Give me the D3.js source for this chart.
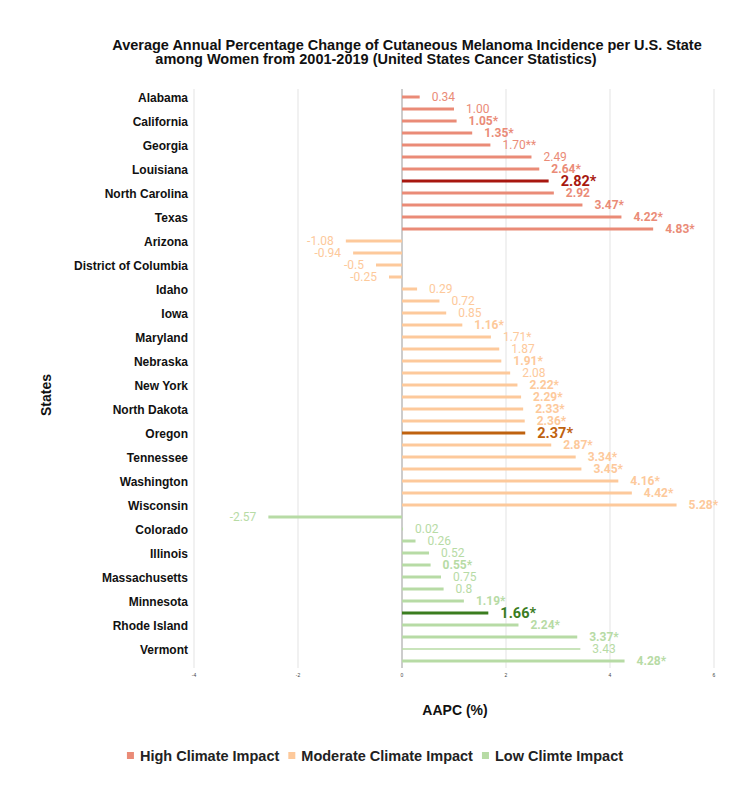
<!DOCTYPE html>
<html>
<head>
<meta charset="utf-8">
<script src="https://cdn.jsdelivr.net/npm/d3@7"></script>
<style>
  body { margin: 0; background: #fff; }
  svg { display: block; }
</style>
</head>
<body>
<svg width="750" height="790"></svg>
<script>
const width = 750, height = 790;
const svg = d3.select("svg");

// High climate impact states (sorted as in the chart)
const highStates = ["Alabama", "Arkansas", "California", "Florida", "Georgia", "Kentucky",
    "Louisiana", "Mississippi", "North Carolina", "South Carolina", "Texas", "Virginia"];
const highValues = [0.34, 1.00, 1.05, 1.35, 1.70, 2.49, 2.64, 2.82, 2.92, 3.47, 4.22, 4.83];
const highLabels = ["0.34", "1.00", "1.05*", "1.35*", "1.70**", "2.49", "2.64*", "2.82*", "2.92", "3.47*", "4.22*", "4.83*"];

// Moderate climate impact states
const modStates = ["Arizona", "Delaware", "District of Columbia", "Hawaii", "Idaho", "Indiana",
    "Iowa", "Kansas", "Maryland", "Missouri", "Nebraska", "New Jersey", "New York", "Ohio",
    "North Dakota", "Oklahoma", "Oregon", "Pennsylvania", "Tennessee", "Utah", "Washington",
    "West Virginia", "Wisconsin"];
const modValues = [-1.08, -0.94, -0.5, -0.25, 0.29, 0.72, 0.85, 1.16, 1.71, 1.87, 1.91, 2.08,
    2.22, 2.29, 2.33, 2.36, 2.37, 2.87, 3.34, 3.45, 4.16, 4.42, 5.28];
const modLabels = ["-1.08", "-0.94", "-0.5", "-0.25", "0.29", "0.72", "0.85", "1.16*", "1.71*",
    "1.87", "1.91*", "2.08", "2.22*", "2.29*", "2.33*", "2.36*", "2.37*", "2.87*", "3.34*",
    "3.45*", "4.16*", "4.42*", "5.28*"];

// Low climate impact states
const lowStates = ["Alaska", "Colorado", "Connecticut", "Illinois", "Maine", "Massachusetts",
    "Michigan", "Minnesota", "Montana", "Rhode Island", "South Dakota", "Vermont", "Wyoming"];
const lowValues = [-2.57, 0.02, 0.26, 0.52, 0.55, 0.75, 0.8, 1.19, 1.66, 2.24, 3.37, 3.43, 4.28];
const lowLabels = ["-2.57", "0.02", "0.26", "0.52", "0.55*", "0.75", "0.8", "1.19*", "1.66*",
    "2.24*", "3.37*", "3.43", "4.28*"];

const xTicks = [-4, -2, 0, 2, 4, 6];
const groupNames = ["High Climate Impact", "Moderate Climate Impact", "Low Climte Impact"];

// styling
const groupColors = ["#ea8b77", "#fdc99b", "#b7dba5"];
const highlightColors = ["#a8170f", "#bf620f", "#3b7d1f"];
const highlighted = new Set(["Mississippi", "Oregon", "Montana"]);
const boldLabels = new Set(["California", "Florida", "Louisiana", "North Carolina", "South Carolina",
    "Texas", "Virginia", "Kansas", "Nebraska", "New York", "Ohio", "North Dakota", "Oklahoma",
    "Pennsylvania", "Tennessee", "Utah", "Washington", "West Virginia", "Wisconsin",
    "Maine", "Minnesota", "Rhode Island", "South Dakota", "Wyoming"]);
const thinBars = new Set(["Vermont"]);

// build rows
const rows = [];
[[highStates, highValues, highLabels], [modStates, modValues, modLabels], [lowStates, lowValues, lowLabels]]
    .forEach(([states, values, labels], g) => {
        states.forEach((s, i) => rows.push({ state: s, value: values[i], label: labels[i], group: g }));
    });

const xScale = d3.scaleLinear().domain([-4, 6]).range([194, 714]);
const yScale = d3.scalePoint().domain(rows.map(d => d.state)).range([97, 661]);

const gridTop = 89, gridBottom = 668;

// grid lines
svg.append("g").selectAll("line")
    .data(xTicks)
    .enter().append("line")
    .attr("x1", d => xScale(d)).attr("x2", d => xScale(d))
    .attr("y1", gridTop).attr("y2", gridBottom)
    .attr("stroke", d => d === 0 ? "#9a9a9a" : "#e3e3e3")
    .attr("stroke-width", 1);

// x tick labels (tiny)
svg.append("g").selectAll("text")
    .data(xTicks)
    .enter().append("text")
    .attr("x", d => xScale(d))
    .attr("y", 677)
    .attr("text-anchor", "middle")
    .style("font-family", "Liberation Sans, Arial, sans-serif")
    .style("font-size", "5px")
    .style("fill", "#444")
    .text(d => d);

// bars (thin lines)
svg.append("g").selectAll("line")
    .data(rows)
    .enter().append("line")
    .attr("x1", xScale(0))
    .attr("x2", d => xScale(d.value))
    .attr("y1", d => yScale(d.state))
    .attr("y2", d => yScale(d.state))
    .attr("stroke", d => highlighted.has(d.state) ? highlightColors[d.group] : groupColors[d.group])
    .attr("stroke-width", d => thinBars.has(d.state) ? 1.6 : 3);

// value labels
svg.append("g").selectAll("text")
    .data(rows)
    .enter().append("text")
    .attr("x", d => xScale(d.value) + (d.value < 0 ? -12 : 12))
    .attr("y", d => yScale(d.state))
    .attr("dy", "0.36em")
    .attr("text-anchor", d => d.value < 0 ? "end" : "start")
    .style("font-family", "Roboto, sans-serif")
    .style("font-size", d => highlighted.has(d.state) ? "14.5px" : "12px")
    .style("font-weight", d => (highlighted.has(d.state) || boldLabels.has(d.state)) ? "bold" : "normal")
    .style("fill", d => highlighted.has(d.state) ? highlightColors[d.group] : groupColors[d.group])
    .text(d => d.label);

// state labels, every other row
svg.append("g").selectAll("text")
    .data(rows.filter((d, i) => i % 2 === 0))
    .enter().append("text")
    .attr("x", 188)
    .attr("y", d => yScale(d.state) + 1)
    .attr("dy", "0.36em")
    .attr("text-anchor", "end")
    .style("font-family", "Liberation Sans, Arial, sans-serif")
    .style("font-size", "12px")
    .style("font-weight", "bold")
    .style("fill", "#111")
    .text(d => d.state);

// title
const title = svg.append("g")
    .style("font-family", "Liberation Sans, Arial, sans-serif")
    .style("font-size", "14.5px")
    .style("font-weight", "bold")
    .style("fill", "#111");
title.append("text").attr("x", 407).attr("y", 50).attr("text-anchor", "middle")
    .text("Average Annual Percentage Change of Cutaneous Melanoma Incidence per U.S. State");
title.append("text").attr("x", 376).attr("y", 64).attr("text-anchor", "middle")
    .text("among Women from 2001-2019 (United States Cancer Statistics)");

// axis titles
svg.append("text")
    .attr("x", 455).attr("y", 715)
    .attr("text-anchor", "middle")
    .style("font-family", "Liberation Sans, Arial, sans-serif")
    .style("font-size", "14px").style("font-weight", "bold").style("fill", "#111")
    .text("AAPC (%)");

svg.append("text")
    .attr("transform", "rotate(-90)")
    .attr("x", -395).attr("y", 51)
    .attr("text-anchor", "middle")
    .style("font-family", "Liberation Sans, Arial, sans-serif")
    .style("font-size", "14px").style("font-weight", "bold").style("fill", "#111")
    .text("States");

// legend
const legend = svg.append("g");
let lx = 0;
groupNames.forEach((name, i) => {
    const item = legend.append("g").attr("transform", `translate(${lx},0)`);
    item.append("rect")
        .attr("x", 0).attr("y", -4).attr("width", 7).attr("height", 7)
        .style("fill", groupColors[i]);
    const t = item.append("text")
        .attr("x", 13).attr("y", 0).attr("dy", "0.36em")
        .style("font-family", "Liberation Sans, Arial, sans-serif")
        .style("font-size", "14.5px").style("font-weight", "bold").style("fill", "#222")
        .text(name);
    lx += 13 + t.node().getComputedTextLength() + 9;
});
legend.attr("transform", `translate(${375 - (lx - 9) / 2},${756})`);
</script>
</body>
</html>
